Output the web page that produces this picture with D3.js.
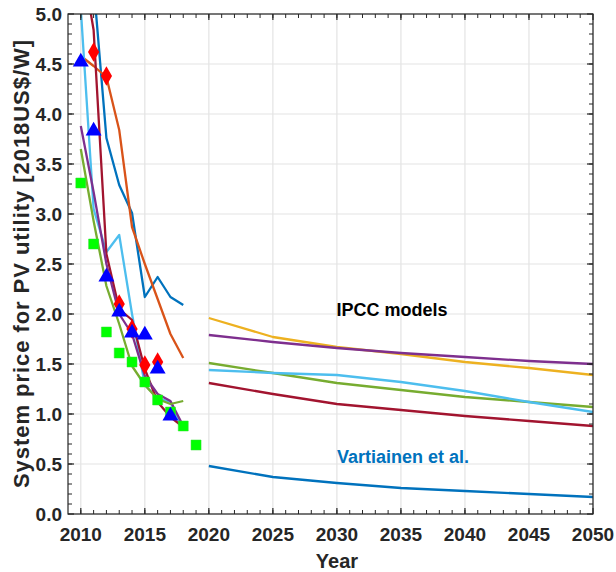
<!DOCTYPE html>
<html>
<head>
<meta charset="utf-8">
<script src="https://cdn.jsdelivr.net/npm/d3@7"></script>
<style>
  html, body { margin: 0; padding: 0; background: #fff; }
  svg { display: block; font-family: "Liberation Sans", Arial, sans-serif; }
</style>
</head>
<body>
<svg id="chart" width="616" height="572"></svg>
<script>
// ---------- data ----------
const histYears = [2010, 2011, 2012, 2013, 2014, 2015, 2016, 2017, 2018];
const futureYears = [2020, 2025, 2030, 2035, 2040, 2045, 2050];

// historical model/price lines (null = no point)
const histDarkBlue  = [null, 5.30, 3.76, 3.29, 3.01, 2.17, 2.37, 2.17, 2.09];
const histOrange    = [4.58, 4.48, 4.37, 3.84, 2.87, 2.50, 2.15, 1.80, 1.56];
const histLightBlue = [5.05, 3.05, 2.62, 2.79, 2.00, 1.29, 1.16, 1.12, 0.84];
const histDarkRed   = [5.60, 4.84, 2.60, 2.05, 1.94, 1.45, 1.12, 0.97, 0.87];
const histPurple    = [3.88, 3.22, 2.50, 2.00, 1.80, 1.38, 1.20, 1.13, 0.88];
const histGreen     = [3.65, 2.93, 2.28, 1.90, 1.48, 1.29, 1.15, 1.10, 1.13];

// future projections
const futYellow    = [1.96, 1.77, 1.67, 1.60, 1.52, 1.46, 1.39];
const futPurple    = [1.79, 1.72, 1.66, 1.61, 1.57, 1.53, 1.50];
const futGreen     = [1.51, 1.41, 1.31, 1.24, 1.17, 1.12, 1.07];
const futLightBlue = [1.44, 1.41, 1.39, 1.32, 1.23, 1.12, 1.02];
const futDarkRed   = [1.31, 1.20, 1.10, 1.04, 0.98, 0.93, 0.88];
const futDarkBlue  = [0.48, 0.37, 0.31, 0.26, 0.23, 0.20, 0.17];

// markers
const triYears = [2010, 2011, 2012, 2013, 2014, 2015, 2016, 2017];
const triValues = [4.52, 3.83, 2.37, 2.02, 1.81, 1.79, 1.45, 0.98];
const diaYears = [2011, 2012, 2013, 2014, 2015, 2016];
const diaValues = [4.62, 4.38, 2.10, 1.85, 1.49, 1.52];
const sqYears = [2010, 2011, 2012, 2013, 2014, 2015, 2016, 2017, 2018, 2019];
const sqValues = [3.31, 2.70, 1.82, 1.61, 1.52, 1.32, 1.14, 1.02, 0.88, 0.69];

const xTicks = [2010, 2015, 2020, 2025, 2030, 2035, 2040, 2045, 2050];
const yTicks = [0, 0.5, 1, 1.5, 2, 2.5, 3, 3.5, 4, 4.5, 5];

const colors = {
  darkBlue: "#0072BD", orange: "#D95319", yellow: "#EDB120", purple: "#7E2F8E",
  green: "#77AC30", lightBlue: "#4DBEEE", darkRed: "#A2142F"
};

// ---------- layout ----------
const L = 68, R = 593, T = 14, B = 514;
const svg = d3.select("#chart");
const x = d3.scaleLinear().domain([2009, 2050]).range([L, R]);
const y = d3.scaleLinear().domain([0, 5]).range([B, T]);
const axisColor = "#262626";

// grid
const grid = svg.append("g");
grid.selectAll("line.gx").data(xTicks).join("line")
  .attr("x1", d => x(d)).attr("x2", d => x(d)).attr("y1", T).attr("y2", B)
  .attr("stroke", "#e3e3e3").attr("stroke-width", 1.2);
grid.selectAll("line.gy").data(yTicks).join("line")
  .attr("y1", d => y(d)).attr("y2", d => y(d)).attr("x1", L).attr("x2", R)
  .attr("stroke", "#e3e3e3").attr("stroke-width", 1.2);

// clip
svg.append("clipPath").attr("id", "clip").append("rect")
  .attr("x", L).attr("y", T).attr("width", R - L).attr("height", B - T);
const plot = svg.append("g").attr("clip-path", "url(#clip)");

const line = d3.line().defined(d => d[1] != null).x(d => x(d[0])).y(d => y(d[1]));
function drawLine(years, vals, color) {
  plot.append("path").datum(years.map((yr, i) => [yr, vals[i]]))
    .attr("d", line).attr("fill", "none").attr("stroke", color)
    .attr("stroke-width", 2.3).attr("stroke-linejoin", "round");
}
drawLine(histYears, histDarkBlue, colors.darkBlue);
drawLine(histYears, histOrange, colors.orange);
drawLine(histYears, histLightBlue, colors.lightBlue);
drawLine(histYears, histDarkRed, colors.darkRed);
drawLine(histYears, histPurple, colors.purple);
drawLine(histYears, histGreen, colors.green);

drawLine(futureYears, futYellow, colors.yellow);
drawLine(futureYears, futPurple, colors.purple);
drawLine(futureYears, futGreen, colors.green);
drawLine(futureYears, futLightBlue, colors.lightBlue);
drawLine(futureYears, futDarkRed, colors.darkRed);
drawLine(futureYears, futDarkBlue, colors.darkBlue);

// markers
const sym = svg.append("g");
sym.selectAll("path.sq").data(sqYears.map((yr, i) => [yr, sqValues[i]])).join("path")
  .attr("transform", d => `translate(${x(d[0])},${y(d[1])})`)
  .attr("d", d3.symbol(d3.symbolSquare, 100))
  .attr("fill", "#00FF00").attr("stroke", "#33dd33").attr("stroke-width", 0.5);
sym.selectAll("path.dia").data(diaYears.map((yr, i) => [yr, diaValues[i]])).join("path")
  .attr("transform", d => `translate(${x(d[0])},${y(d[1])})`)
  .attr("d", d3.symbol(d3.symbolDiamond, 110))
  .attr("fill", "#FF0000");
sym.selectAll("path.tri").data(triYears.map((yr, i) => [yr, triValues[i]])).join("path")
  .attr("transform", d => `translate(${x(d[0])},${y(d[1])})`)
  .attr("d", d3.symbol(d3.symbolTriangle, 110))
  .attr("fill", "#0000FF");

// frame + ticks
const frame = svg.append("g");
frame.append("rect").attr("x", L).attr("y", T).attr("width", R - L).attr("height", B - T)
  .attr("fill", "none").attr("stroke", axisColor).attr("stroke-width", 1.2);
const minorX = d3.range(2010, 2050, 1);
const minorY = d3.range(0.1, 5, 0.1);
frame.selectAll("line.mxb").data(minorX).join("line")
  .attr("x1", d => x(d)).attr("x2", d => x(d)).attr("y1", B).attr("y2", B - 4)
  .attr("stroke", axisColor).attr("stroke-width", 1);
frame.selectAll("line.mxt").data(minorX).join("line")
  .attr("x1", d => x(d)).attr("x2", d => x(d)).attr("y1", T).attr("y2", T + 4)
  .attr("stroke", axisColor).attr("stroke-width", 1);
frame.selectAll("line.myl").data(minorY).join("line")
  .attr("y1", d => y(d)).attr("y2", d => y(d)).attr("x1", L).attr("x2", L + 4)
  .attr("stroke", axisColor).attr("stroke-width", 1);
frame.selectAll("line.myr").data(minorY).join("line")
  .attr("y1", d => y(d)).attr("y2", d => y(d)).attr("x1", R).attr("x2", R - 4)
  .attr("stroke", axisColor).attr("stroke-width", 1);
frame.selectAll("line.Mxb").data(xTicks).join("line")
  .attr("x1", d => x(d)).attr("x2", d => x(d)).attr("y1", B).attr("y2", B - 6)
  .attr("stroke", axisColor).attr("stroke-width", 1.2);
frame.selectAll("line.Mxt").data(xTicks).join("line")
  .attr("x1", d => x(d)).attr("x2", d => x(d)).attr("y1", T).attr("y2", T + 6)
  .attr("stroke", axisColor).attr("stroke-width", 1.2);
frame.selectAll("line.Myl").data(yTicks).join("line")
  .attr("y1", d => y(d)).attr("y2", d => y(d)).attr("x1", L).attr("x2", L + 6)
  .attr("stroke", axisColor).attr("stroke-width", 1.2);
frame.selectAll("line.Myr").data(yTicks).join("line")
  .attr("y1", d => y(d)).attr("y2", d => y(d)).attr("x1", R).attr("x2", R - 6)
  .attr("stroke", axisColor).attr("stroke-width", 1.2);

// tick labels
const fontSize = 19;
svg.append("g").selectAll("text").data(xTicks).join("text")
  .attr("x", d => x(d)).attr("y", 541)
  .attr("text-anchor", "middle").attr("font-weight", "bold").attr("font-size", fontSize)
  .attr("fill", axisColor).text(d => d);
svg.append("g").selectAll("text").data(yTicks).join("text")
  .attr("x", 62).attr("y", d => y(d) + 7)
  .attr("text-anchor", "end").attr("font-weight", "bold").attr("font-size", fontSize)
  .attr("fill", axisColor).text(d => d.toFixed(1));

// axis titles
svg.append("text").attr("x", 337).attr("y", 568)
  .attr("text-anchor", "middle").attr("font-weight", "bold").attr("font-size", 20)
  .attr("fill", axisColor).text("Year");
svg.append("text").attr("transform", `translate(29,264) rotate(-90)`)
  .attr("text-anchor", "middle").attr("font-weight", "bold").attr("font-size", 22)
  .attr("textLength", 448).attr("lengthAdjust", "spacing")
  .attr("fill", axisColor).text("System price for PV utility [2018US$/W]");

// annotations
svg.append("text").attr("x", 392).attr("y", 316).attr("text-anchor", "middle")
  .attr("font-weight", "bold").attr("font-size", 18).attr("fill", "#000")
  .text("IPCC models");
svg.append("text").attr("x", 403).attr("y", 463).attr("text-anchor", "middle")
  .attr("font-weight", "bold").attr("font-size", 18).attr("fill", colors.darkBlue)
  .text("Vartiainen et al.");
</script>
</body>
</html>
